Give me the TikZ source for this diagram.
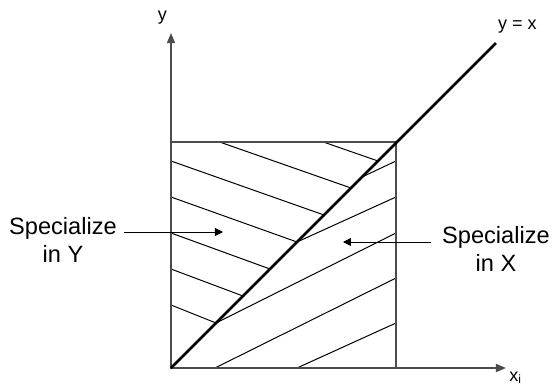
\documentclass[tikz,border=0pt]{standalone}
\usepackage{fontspec}
\setmainfont{Liberation Sans}
\usetikzlibrary{arrows.meta, positioning}
\tikzstyle{axisline} = [
    line width=0.65pt,
    draw=black!70,
    -{Triangle[length=5pt,width=4pt]}
]
\tikzstyle{boxline} = [
    line width=0.65pt,
    draw=black!70
]
\tikzstyle{hatch} = [
    line width=0.5pt,
    draw=black
]
\tikzstyle{diagline} = [
    line width=1.35pt,
    draw=black
]
\tikzstyle{axislabel} = [
    inner sep=0pt,
    font=\fontsize{9}{10.8}\selectfont
]
\tikzstyle{regionlabel} = [
    inner sep=0pt,
    align=center,
    font=\fontsize{11.8}{14}\selectfont
]
\tikzstyle{pointer} = [
    line width=0.5pt,
    draw=black,
    -{Triangle[length=4pt,width=4pt]}
]

\begin{document}
\begin{tikzpicture}[x=0.5pt, y=0.5pt]
\useasboundingbox (-171,-19) rectangle (382,368);

% Coordinates
\coordinate (O) at (0,0);
\coordinate (ytop) at (0,335);
\coordinate (xend) at (335,0);
\coordinate (corner) at (225,226);
\coordinate (diagend) at (325,325);
\coordinate (tipY) at (52,136);
\coordinate (tipX) at (172,126);

% Hatching
\begin{scope}
\clip (O) rectangle (corner);
\foreach \k in {0,...,6}
    \draw [hatch] (0,63+36*\k) -- (45+27*\k,45+27*\k);
\end{scope}
\foreach \a/\b/\c/\d in {191/191/225/207, 126/126/225/171, 45/45/225/135, 44/0/225/90, 126/0/225/45}
    \draw [hatch] (\a,\b) -- (\c,\d);

% Square and axes
\draw [boxline] (O) rectangle (corner);
\draw [axisline] (O) -- (ytop);
\draw [axisline] (O) -- (xend);
\draw [diagline] (O) -- (diagend);

% Nodes
\node (ylab) [axislabel, anchor=base] at (-8.5,347.7) {y};
\node (xlab) [axislabel, anchor=base west] at (338,-13) {x\textsubscript{i}};
\node (diaglab) [axislabel, anchor=base] at (346.5,338.3) {y = x};
\node (specY) [regionlabel] at (-108,127.6) {Specialize\\in Y};
\node (specX) [regionlabel] at (325,119.1) {Specialize\\in X};

% Arrows
\draw [pointer] ([shift={(3.5pt,4.2pt)}]specY.east) -- (tipY);
\draw [pointer] ([shift={(-5.25pt,3.45pt)}]specX.west) -- (tipX);

\end{tikzpicture}
\end{document}
